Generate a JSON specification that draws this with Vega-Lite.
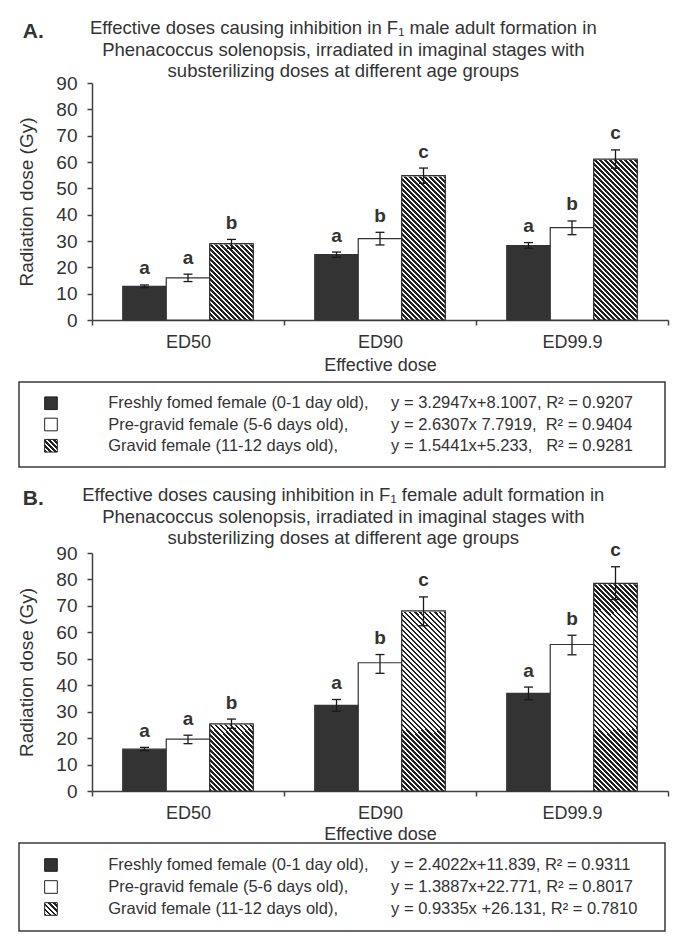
{
 "$schema": "https://vega.github.io/schema/vega-lite/v6.json",
 "padding": {"left": 17, "top": 19, "right": 8, "bottom": 2},
 "background": "#ffffff",
 "spacing": 18,
 "datasets": {
  "A": [
   {"dose":"ED50","stage":"fresh","value":12.8,"lo":12.3,"hi":13.3,"letter":"a"},
   {"dose":"ED50","stage":"pregravid","value":16.0,"lo":14.6,"hi":17.4,"letter":"a"},
   {"dose":"ED50","stage":"gravid","value":29.0,"lo":27.2,"hi":30.6,"letter":"b"},
   {"dose":"ED90","stage":"fresh","value":24.8,"lo":23.8,"hi":25.8,"letter":"a"},
   {"dose":"ED90","stage":"pregravid","value":30.9,"lo":28.5,"hi":33.3,"letter":"b"},
   {"dose":"ED90","stage":"gravid","value":54.8,"lo":51.9,"hi":57.7,"letter":"c"},
   {"dose":"ED99.9","stage":"fresh","value":28.3,"lo":27.2,"hi":29.4,"letter":"a"},
   {"dose":"ED99.9","stage":"pregravid","value":35.1,"lo":32.4,"hi":37.6,"letter":"b"},
   {"dose":"ED99.9","stage":"gravid","value":61.1,"lo":57.6,"hi":64.6,"letter":"c"}
  ],
  "B": [
   {"dose":"ED50","stage":"fresh","value":15.8,"lo":15.3,"hi":16.5,"letter":"a"},
   {"dose":"ED50","stage":"pregravid","value":19.6,"lo":17.9,"hi":21.1,"letter":"a"},
   {"dose":"ED50","stage":"gravid","value":25.4,"lo":23.7,"hi":27.2,"letter":"b"},
   {"dose":"ED90","stage":"fresh","value":32.4,"lo":30.2,"hi":34.6,"letter":"a"},
   {"dose":"ED90","stage":"pregravid","value":48.5,"lo":44.5,"hi":51.6,"letter":"b"},
   {"dose":"ED90","stage":"gravid","value":68.1,"lo":62.5,"hi":73.4,"letter":"c"},
   {"dose":"ED99.9","stage":"fresh","value":36.9,"lo":34.5,"hi":39.3,"letter":"a"},
   {"dose":"ED99.9","stage":"pregravid","value":55.4,"lo":51.5,"hi":58.9,"letter":"b"},
   {"dose":"ED99.9","stage":"gravid","value":78.5,"lo":72.4,"hi":84.8,"letter":"c"}
  ],
  "legA": [
   {"stage":"fresh","name":"Freshly fomed female (0-1 day old),","eq":"y = 3.2947x+8.1007, R² = 0.9207"},
   {"stage":"pregravid","name":"Pre-gravid female (5-6 days old),","eq":"y = 2.6307x 7.7919,\u00a0 R² = 0.9404"},
   {"stage":"gravid","name":"Gravid female (11-12 days old),","eq":"y = 1.5441x+5.233,\u00a0\u00a0 R² = 0.9281"}
  ],
  "legB": [
   {"stage":"fresh","name":"Freshly fomed female (0-1 day old),","eq":"y = 2.4022x+11.839, R² = 0.9311"},
   {"stage":"pregravid","name":"Pre-gravid female (5-6 days old),","eq":"y = 1.3887x+22.771, R² = 0.8017"},
   {"stage":"gravid","name":"Gravid female (11-12 days old),","eq":"y = 0.9335x +26.131, R² = 0.7810"}
  ]
 },
 "vconcat": [
  {
   "title": {"text": "A.", "anchor": "start", "frame": "bounds", "fontSize": 21, "fontWeight": "bold", "dx": 5, "dy": 23, "offset": 0},
   "spacing": 7,
   "vconcat": [
    {
     "width": 576, "height": 237,
     "view": {"stroke": null},
     "title": {"text": ["Effective doses causing inhibition in F₁ male adult formation in", "Phenacoccus solenopsis, irradiated in imaginal stages with", "substerilizing doses at different age groups"], "fontSize": 18.5, "lineHeight": 21.5, "offset": -6.5, "anchor": "middle", "frame": "bounds"},
     "data": {"name": "A"},
     "resolve": {"axis": {"y": "independent"}},
     "encoding": {
      "x": {"field": "dose", "type": "nominal", "sort": ["ED50","ED90","ED99.9"], "scale": {"paddingInner": 0, "paddingOuter": 0}, "title": "Effective dose", "axis": {"labelAngle": 0, "tickBand": "extent", "labelPadding": 8, "titlePadding": 5}},
      "xOffset": {"field": "stage", "type": "nominal", "sort": ["fresh","pregravid","gravid"], "scale": {"domain": ["fresh","pregravid","gravid"], "paddingInner": 0, "paddingOuter": 0.707}}
     },
     "layer": [
      {"mark": {"type": "bar", "stroke": "#333333", "strokeWidth": 1.2},
       "encoding": {
        "y": {"field": "value", "type": "quantitative", "scale": {"domain": [0, 90], "nice": false}, "title": "Radiation dose (Gy)", "axis": {"orient": "left", "values": [0,10,20,30,40,50,60,70,80,90], "labelPadding": 10, "titlePadding": 19, "labelFontSize": 19, "titleFontSize": 19}},
        "fill": {"field": "stage", "type": "nominal", "scale": {"domain": ["fresh","pregravid","gravid"], "range": ["#333333", "#ffffff", "rgba(255,255,255,0)"]}, "legend": null}
       }},
      {"transform": [{"filter": "datum.stage === 'gravid'"}], "mark": {"type": "bar", "style": "hatch", "strokeWidth": 0},
       "encoding": {"y": {"datum": 90, "type": "quantitative", "scale": {"domain": [0, 90], "nice": false}, "axis": null}, "y2": {"datum": 0}}},
      {"transform": [{"filter": "datum.stage === 'gravid'"}], "mark": {"type": "bar", "fill": "#ffffff", "stroke": "#ffffff", "strokeWidth": 1.5},
       "encoding": {"y": {"field": "value", "type": "quantitative", "scale": {"domain": [0, 90], "nice": false}, "axis": null}, "y2": {"datum": 90}}},
      {"transform": [{"filter": "datum.stage === 'gravid'"}], "mark": {"type": "bar", "fill": "rgba(255,255,255,0)", "stroke": "#333333", "strokeWidth": 1.2},
       "encoding": {"y": {"field": "value", "type": "quantitative", "scale": {"domain": [0, 90], "nice": false}, "axis": null}}},
      {"mark": {"type": "rule", "color": "#1a1a1a", "strokeWidth": 1.3},
       "encoding": {"y": {"field": "lo", "type": "quantitative", "scale": {"domain": [0, 90], "nice": false}, "axis": null}, "y2": {"field": "hi"}}},
      {"mark": {"type": "tick", "color": "#1a1a1a", "size": 9, "thickness": 1.3, "opacity": 1},
       "encoding": {"y": {"field": "lo", "type": "quantitative", "scale": {"domain": [0, 90], "nice": false}, "axis": null}}},
      {"mark": {"type": "tick", "color": "#1a1a1a", "size": 9, "thickness": 1.3, "opacity": 1},
       "encoding": {"y": {"field": "hi", "type": "quantitative", "scale": {"domain": [0, 90], "nice": false}, "axis": null}}},
      {"mark": {"type": "text", "baseline": "alphabetic", "dy": -10.5, "fontSize": 19, "fontWeight": "bold", "color": "#333333"},
       "encoding": {"y": {"field": "hi", "type": "quantitative", "scale": {"domain": [0, 90], "nice": false}, "axis": null}, "text": {"field": "letter"}}}
     ]
    },
    {
     "width": 576, "height": 85,
     "view": {"stroke": null},
     "data": {"name": "legA"},
     "resolve": {"scale": {"y": "independent"}},
     "layer": [
      {"transform": [{"filter": "datum.stage === 'fresh'"}], "mark": {"type": "rect", "fillOpacity": 0, "stroke": "#3a3a3a", "strokeWidth": 1.5, "clip": false},
       "encoding": {"x": {"datum": 0, "type": "quantitative", "scale": {"domain": [0, 100], "range": [-73, 573], "nice": false, "zero": false}, "axis": null}, "x2": {"datum": 100},
        "y": {"datum": 0, "type": "quantitative", "scale": {"domain": [0, 1], "nice": false}, "axis": null}, "y2": {"datum": 1}}},
      {"transform": [{"filter": "datum.stage !== 'gravid'"}], "mark": {"type": "square", "size": 160, "opacity": 1, "stroke": "#222222", "strokeWidth": 1, "clip": false},
       "encoding": {"x": {"datum": 4.95, "type": "quantitative", "scale": {"domain": [0, 100], "range": [-73, 573], "nice": false, "zero": false}, "axis": null},
        "y": {"field": "stage", "type": "nominal", "sort": ["fresh","pregravid","gravid"], "scale": {"type": "point", "domain": ["fresh","pregravid","gravid"], "padding": 1.02}, "axis": null},
        "fill": {"field": "stage", "type": "nominal", "scale": {"domain": ["fresh","pregravid"], "range": ["#333333", "#ffffff"]}, "legend": null}}},
      {"transform": [{"filter": "datum.stage === 'gravid'"}], "mark": {"type": "square", "size": 160, "opacity": 1, "style": "hatchsw", "stroke": "#222222", "strokeWidth": 1, "clip": false},
       "encoding": {"x": {"datum": 4.95, "type": "quantitative", "scale": {"domain": [0, 100], "range": [-73, 573], "nice": false, "zero": false}, "axis": null},
        "y": {"field": "stage", "type": "nominal", "sort": ["fresh","pregravid","gravid"], "scale": {"type": "point", "domain": ["fresh","pregravid","gravid"], "padding": 1.02}, "axis": null}}},
      {"mark": {"type": "text", "align": "left", "baseline": "middle", "fontSize": 16.5, "color": "#333333"},
       "encoding": {"x": {"datum": 13.8, "type": "quantitative", "scale": {"domain": [0, 100], "range": [-73, 573], "nice": false, "zero": false}, "axis": null},
        "y": {"field": "stage", "type": "nominal", "sort": ["fresh","pregravid","gravid"], "scale": {"type": "point", "domain": ["fresh","pregravid","gravid"], "padding": 1.02}, "axis": null}, "text": {"field": "name"}}},
      {"mark": {"type": "text", "align": "left", "baseline": "middle", "fontSize": 16.5, "color": "#333333"},
       "encoding": {"x": {"datum": 57.6, "type": "quantitative", "scale": {"domain": [0, 100], "range": [-73, 573], "nice": false, "zero": false}, "axis": null},
        "y": {"field": "stage", "type": "nominal", "sort": ["fresh","pregravid","gravid"], "scale": {"type": "point", "domain": ["fresh","pregravid","gravid"], "padding": 1.02}, "axis": null}, "text": {"field": "eq"}}}
     ]
    }
   ]
  },
  {
   "title": {"text": "B.", "anchor": "start", "frame": "bounds", "fontSize": 21, "fontWeight": "bold", "dx": 5, "dy": 23, "offset": 0},
   "spacing": -2,
   "vconcat": [
    {
     "width": 576, "height": 238,
     "view": {"stroke": null},
     "title": {"text": ["Effective doses causing inhibition in F₁ female adult formation in", "Phenacoccus solenopsis, irradiated in imaginal stages with", "substerilizing doses at different age groups"], "fontSize": 18.5, "lineHeight": 21.5, "offset": -6.5, "anchor": "middle", "frame": "bounds"},
     "data": {"name": "B"},
     "resolve": {"axis": {"y": "independent"}},
     "encoding": {
      "x": {"field": "dose", "type": "nominal", "sort": ["ED50","ED90","ED99.9"], "scale": {"paddingInner": 0, "paddingOuter": 0}, "title": "Effective dose", "axis": {"labelAngle": 0, "tickBand": "extent", "labelPadding": 8, "titlePadding": 3}},
      "xOffset": {"field": "stage", "type": "nominal", "sort": ["fresh","pregravid","gravid"], "scale": {"domain": ["fresh","pregravid","gravid"], "paddingInner": 0, "paddingOuter": 0.707}}
     },
     "layer": [
      {"mark": {"type": "bar", "stroke": "#333333", "strokeWidth": 1.2},
       "encoding": {
        "y": {"field": "value", "type": "quantitative", "scale": {"domain": [0, 90], "nice": false}, "title": "Radiation dose (Gy)", "axis": {"orient": "left", "values": [0,10,20,30,40,50,60,70,80,90], "labelPadding": 10, "titlePadding": 19, "labelFontSize": 19, "titleFontSize": 19}},
        "fill": {"field": "stage", "type": "nominal", "scale": {"domain": ["fresh","pregravid","gravid"], "range": ["#333333", "#ffffff", "rgba(255,255,255,0)"]}, "legend": null}
       }},
      {"transform": [{"filter": "datum.stage === 'gravid'"}], "mark": {"type": "bar", "style": "hatch", "strokeWidth": 0},
       "encoding": {"y": {"datum": 90, "type": "quantitative", "scale": {"domain": [0, 90], "nice": false}, "axis": null}, "y2": {"datum": 0}}},
      {"transform": [{"filter": "datum.stage === 'gravid'"}], "mark": {"type": "bar", "fill": "#ffffff", "stroke": "#ffffff", "strokeWidth": 1.5},
       "encoding": {"y": {"field": "value", "type": "quantitative", "scale": {"domain": [0, 90], "nice": false}, "axis": null}, "y2": {"datum": 90}}},
      {"transform": [{"filter": "datum.stage === 'gravid'"}], "mark": {"type": "bar", "fill": "rgba(255,255,255,0)", "stroke": "#333333", "strokeWidth": 1.2},
       "encoding": {"y": {"field": "value", "type": "quantitative", "scale": {"domain": [0, 90], "nice": false}, "axis": null}}},
      {"mark": {"type": "rule", "color": "#1a1a1a", "strokeWidth": 1.3},
       "encoding": {"y": {"field": "lo", "type": "quantitative", "scale": {"domain": [0, 90], "nice": false}, "axis": null}, "y2": {"field": "hi"}}},
      {"mark": {"type": "tick", "color": "#1a1a1a", "size": 9, "thickness": 1.3, "opacity": 1},
       "encoding": {"y": {"field": "lo", "type": "quantitative", "scale": {"domain": [0, 90], "nice": false}, "axis": null}}},
      {"mark": {"type": "tick", "color": "#1a1a1a", "size": 9, "thickness": 1.3, "opacity": 1},
       "encoding": {"y": {"field": "hi", "type": "quantitative", "scale": {"domain": [0, 90], "nice": false}, "axis": null}}},
      {"mark": {"type": "text", "baseline": "alphabetic", "dy": -10.5, "fontSize": 19, "fontWeight": "bold", "color": "#333333"},
       "encoding": {"y": {"field": "hi", "type": "quantitative", "scale": {"domain": [0, 90], "nice": false}, "axis": null}, "text": {"field": "letter"}}}
     ]
    },
    {
     "width": 576, "height": 88,
     "view": {"stroke": null},
     "data": {"name": "legB"},
     "resolve": {"scale": {"y": "independent"}},
     "layer": [
      {"transform": [{"filter": "datum.stage === 'fresh'"}], "mark": {"type": "rect", "fillOpacity": 0, "stroke": "#3a3a3a", "strokeWidth": 1.5, "clip": false},
       "encoding": {"x": {"datum": 0, "type": "quantitative", "scale": {"domain": [0, 100], "range": [-73, 573], "nice": false, "zero": false}, "axis": null}, "x2": {"datum": 100},
        "y": {"datum": 0, "type": "quantitative", "scale": {"domain": [0, 1], "nice": false}, "axis": null}, "y2": {"datum": 1}}},
      {"transform": [{"filter": "datum.stage !== 'gravid'"}], "mark": {"type": "square", "size": 160, "opacity": 1, "stroke": "#222222", "strokeWidth": 1, "clip": false},
       "encoding": {"x": {"datum": 4.95, "type": "quantitative", "scale": {"domain": [0, 100], "range": [-73, 573], "nice": false, "zero": false}, "axis": null},
        "y": {"field": "stage", "type": "nominal", "sort": ["fresh","pregravid","gravid"], "scale": {"type": "point", "domain": ["fresh","pregravid","gravid"], "padding": 1.1}, "axis": null},
        "fill": {"field": "stage", "type": "nominal", "scale": {"domain": ["fresh","pregravid"], "range": ["#333333", "#ffffff"]}, "legend": null}}},
      {"transform": [{"filter": "datum.stage === 'gravid'"}], "mark": {"type": "square", "size": 160, "opacity": 1, "style": "hatchsw", "stroke": "#222222", "strokeWidth": 1, "clip": false},
       "encoding": {"x": {"datum": 4.95, "type": "quantitative", "scale": {"domain": [0, 100], "range": [-73, 573], "nice": false, "zero": false}, "axis": null},
        "y": {"field": "stage", "type": "nominal", "sort": ["fresh","pregravid","gravid"], "scale": {"type": "point", "domain": ["fresh","pregravid","gravid"], "padding": 1.1}, "axis": null}}},
      {"mark": {"type": "text", "align": "left", "baseline": "middle", "fontSize": 16.5, "color": "#333333"},
       "encoding": {"x": {"datum": 13.8, "type": "quantitative", "scale": {"domain": [0, 100], "range": [-73, 573], "nice": false, "zero": false}, "axis": null},
        "y": {"field": "stage", "type": "nominal", "sort": ["fresh","pregravid","gravid"], "scale": {"type": "point", "domain": ["fresh","pregravid","gravid"], "padding": 1.1}, "axis": null}, "text": {"field": "name"}}},
      {"mark": {"type": "text", "align": "left", "baseline": "middle", "fontSize": 16.5, "color": "#333333"},
       "encoding": {"x": {"datum": 57.6, "type": "quantitative", "scale": {"domain": [0, 100], "range": [-73, 573], "nice": false, "zero": false}, "axis": null},
        "y": {"field": "stage", "type": "nominal", "sort": ["fresh","pregravid","gravid"], "scale": {"type": "point", "domain": ["fresh","pregravid","gravid"], "padding": 1.1}, "axis": null}, "text": {"field": "eq"}}}
     ]
    }
   ]
  }
 ],
 "config": {
  "font": "Liberation Sans",
  "view": {"stroke": null},
  "title": {"color": "#333333", "fontWeight": "normal", "font": "Liberation Sans"},
  "axis": {"grid": false, "domainColor": "#404040", "tickColor": "#404040", "domainWidth": 1.5, "tickWidth": 1.5, "tickSize": 5, "labelColor": "#333333", "titleColor": "#333333", "labelFontSize": 18, "titleFontSize": 18, "titleFontWeight": "normal", "labelFont": "Liberation Sans", "titleFont": "Liberation Sans"},
  "style": {
   "hatchsw": {"color": {"gradient": "linear", "x1": 0, "y1": 1, "x2": 1, "y2": 0, "stops": [
    {"offset":0,"color":"#222"},{"offset":0.1,"color":"#222"},{"offset":0.1,"color":"#fff"},{"offset":0.2,"color":"#fff"},
    {"offset":0.2,"color":"#222"},{"offset":0.3,"color":"#222"},{"offset":0.3,"color":"#fff"},{"offset":0.4,"color":"#fff"},
    {"offset":0.4,"color":"#222"},{"offset":0.5,"color":"#222"},{"offset":0.5,"color":"#fff"},{"offset":0.6,"color":"#fff"},
    {"offset":0.6,"color":"#222"},{"offset":0.7,"color":"#222"},{"offset":0.7,"color":"#fff"},{"offset":0.8,"color":"#fff"},
    {"offset":0.8,"color":"#222"},{"offset":0.9,"color":"#222"},{"offset":0.9,"color":"#fff"},{"offset":1,"color":"#fff"}
   ]}},
   "hatch": {"color": {"gradient": "linear", "x1": 0, "y1": 1, "x2": 0.2102, "y2": -0.145, "stops": [
    {"offset":0,"color":"#222"},{"offset":0.0089,"color":"#222"},{"offset":0.0089,"color":"#fff"},{"offset":0.0178,"color":"#fff"},
    {"offset":0.0178,"color":"#222"},{"offset":0.0267,"color":"#222"},{"offset":0.0267,"color":"#fff"},{"offset":0.0357,"color":"#fff"},
    {"offset":0.0357,"color":"#222"},{"offset":0.0446,"color":"#222"},{"offset":0.0446,"color":"#fff"},{"offset":0.0535,"color":"#fff"},
    {"offset":0.0535,"color":"#222"},{"offset":0.0624,"color":"#222"},{"offset":0.0624,"color":"#fff"},{"offset":0.0713,"color":"#fff"},
    {"offset":0.0713,"color":"#222"},{"offset":0.0802,"color":"#222"},{"offset":0.0802,"color":"#fff"},{"offset":0.0891,"color":"#fff"},
    {"offset":0.0891,"color":"#222"},{"offset":0.0980,"color":"#222"},{"offset":0.0980,"color":"#fff"},{"offset":0.1070,"color":"#fff"},
    {"offset":0.1070,"color":"#222"},{"offset":0.1159,"color":"#222"},{"offset":0.1159,"color":"#fff"},{"offset":0.1248,"color":"#fff"},
    {"offset":0.1248,"color":"#222"},{"offset":0.1337,"color":"#222"},{"offset":0.1337,"color":"#fff"},{"offset":0.1426,"color":"#fff"},
    {"offset":0.1426,"color":"#222"},{"offset":0.1515,"color":"#222"},{"offset":0.1515,"color":"#fff"},{"offset":0.1604,"color":"#fff"},
    {"offset":0.1604,"color":"#222"},{"offset":0.1693,"color":"#222"},{"offset":0.1693,"color":"#fff"},{"offset":0.1783,"color":"#fff"},
    {"offset":0.1783,"color":"#222"},{"offset":0.1872,"color":"#222"},{"offset":0.1872,"color":"#fff"},{"offset":0.1961,"color":"#fff"},
    {"offset":0.1961,"color":"#222"},{"offset":0.2050,"color":"#222"},{"offset":0.2050,"color":"#fff"},{"offset":0.2139,"color":"#fff"},
    {"offset":0.2139,"color":"#222"},{"offset":0.2228,"color":"#222"},{"offset":0.2228,"color":"#fff"},{"offset":0.2317,"color":"#fff"},
    {"offset":0.2317,"color":"#222"},{"offset":0.2406,"color":"#222"},{"offset":0.2406,"color":"#fff"},{"offset":0.2496,"color":"#fff"},
    {"offset":0.2496,"color":"#222"},{"offset":0.2585,"color":"#222"},{"offset":0.2585,"color":"#fff"},{"offset":0.2674,"color":"#fff"},
    {"offset":0.2674,"color":"#222"},{"offset":0.2763,"color":"#222"},{"offset":0.2763,"color":"#fff"},{"offset":0.2852,"color":"#fff"},
    {"offset":0.2852,"color":"#222"},{"offset":0.2941,"color":"#222"},{"offset":0.2941,"color":"#fff"},{"offset":0.3030,"color":"#fff"},
    {"offset":0.3030,"color":"#222"},{"offset":0.3119,"color":"#222"},{"offset":0.3119,"color":"#fff"},{"offset":0.3209,"color":"#fff"},
    {"offset":0.3209,"color":"#222"},{"offset":0.3298,"color":"#222"},{"offset":0.3298,"color":"#fff"},{"offset":0.3387,"color":"#fff"},
    {"offset":0.3387,"color":"#222"},{"offset":0.3476,"color":"#222"},{"offset":0.3476,"color":"#fff"},{"offset":0.3565,"color":"#fff"},
    {"offset":0.3565,"color":"#222"},{"offset":0.3654,"color":"#222"},{"offset":0.3654,"color":"#fff"},{"offset":0.3743,"color":"#fff"},
    {"offset":0.3743,"color":"#222"},{"offset":0.3832,"color":"#222"},{"offset":0.3832,"color":"#fff"},{"offset":0.3922,"color":"#fff"},
    {"offset":0.3922,"color":"#222"},{"offset":0.4011,"color":"#222"},{"offset":0.4011,"color":"#fff"},{"offset":0.4100,"color":"#fff"},
    {"offset":0.4100,"color":"#222"},{"offset":0.4189,"color":"#222"},{"offset":0.4189,"color":"#fff"},{"offset":0.4278,"color":"#fff"},
    {"offset":0.4278,"color":"#222"},{"offset":0.4367,"color":"#222"},{"offset":0.4367,"color":"#fff"},{"offset":0.4456,"color":"#fff"},
    {"offset":0.4456,"color":"#222"},{"offset":0.4545,"color":"#222"},{"offset":0.4545,"color":"#fff"},{"offset":0.4635,"color":"#fff"},
    {"offset":0.4635,"color":"#222"},{"offset":0.4724,"color":"#222"},{"offset":0.4724,"color":"#fff"},{"offset":0.4813,"color":"#fff"},
    {"offset":0.4813,"color":"#222"},{"offset":0.4902,"color":"#222"},{"offset":0.4902,"color":"#fff"},{"offset":0.4991,"color":"#fff"},
    {"offset":0.4991,"color":"#222"},{"offset":0.5080,"color":"#222"},{"offset":0.5080,"color":"#fff"},{"offset":0.5169,"color":"#fff"},
    {"offset":0.5169,"color":"#222"},{"offset":0.5258,"color":"#222"},{"offset":0.5258,"color":"#fff"},{"offset":0.5348,"color":"#fff"},
    {"offset":0.5348,"color":"#222"},{"offset":0.5437,"color":"#222"},{"offset":0.5437,"color":"#fff"},{"offset":0.5526,"color":"#fff"},
    {"offset":0.5526,"color":"#222"},{"offset":0.5615,"color":"#222"},{"offset":0.5615,"color":"#fff"},{"offset":0.5704,"color":"#fff"},
    {"offset":0.5704,"color":"#222"},{"offset":0.5793,"color":"#222"},{"offset":0.5793,"color":"#fff"},{"offset":0.5882,"color":"#fff"},
    {"offset":0.5882,"color":"#222"},{"offset":0.5971,"color":"#222"},{"offset":0.5971,"color":"#fff"},{"offset":0.6061,"color":"#fff"},
    {"offset":0.6061,"color":"#222"},{"offset":0.6150,"color":"#222"},{"offset":0.6150,"color":"#fff"},{"offset":0.6239,"color":"#fff"},
    {"offset":0.6239,"color":"#222"},{"offset":0.6328,"color":"#222"},{"offset":0.6328,"color":"#fff"},{"offset":0.6417,"color":"#fff"},
    {"offset":0.6417,"color":"#222"},{"offset":0.6506,"color":"#222"},{"offset":0.6506,"color":"#fff"},{"offset":0.6595,"color":"#fff"},
    {"offset":0.6595,"color":"#222"},{"offset":0.6684,"color":"#222"},{"offset":0.6684,"color":"#fff"},{"offset":0.6774,"color":"#fff"},
    {"offset":0.6774,"color":"#222"},{"offset":0.6863,"color":"#222"},{"offset":0.6863,"color":"#fff"},{"offset":0.6952,"color":"#fff"},
    {"offset":0.6952,"color":"#222"},{"offset":0.7041,"color":"#222"},{"offset":0.7041,"color":"#fff"},{"offset":0.7130,"color":"#fff"},
    {"offset":0.7130,"color":"#222"},{"offset":0.7219,"color":"#222"},{"offset":0.7219,"color":"#fff"},{"offset":0.7308,"color":"#fff"},
    {"offset":0.7308,"color":"#222"},{"offset":0.7397,"color":"#222"},{"offset":0.7397,"color":"#fff"},{"offset":0.7487,"color":"#fff"},
    {"offset":0.7487,"color":"#222"},{"offset":0.7576,"color":"#222"},{"offset":0.7576,"color":"#fff"},{"offset":0.7665,"color":"#fff"},
    {"offset":0.7665,"color":"#222"},{"offset":0.7754,"color":"#222"},{"offset":0.7754,"color":"#fff"},{"offset":0.7843,"color":"#fff"},
    {"offset":0.7843,"color":"#222"},{"offset":0.7932,"color":"#222"},{"offset":0.7932,"color":"#fff"},{"offset":0.8021,"color":"#fff"},
    {"offset":0.8021,"color":"#222"},{"offset":0.8110,"color":"#222"},{"offset":0.8110,"color":"#fff"},{"offset":0.8200,"color":"#fff"},
    {"offset":0.8200,"color":"#222"},{"offset":0.8289,"color":"#222"},{"offset":0.8289,"color":"#fff"},{"offset":0.8378,"color":"#fff"},
    {"offset":0.8378,"color":"#222"},{"offset":0.8467,"color":"#222"},{"offset":0.8467,"color":"#fff"},{"offset":0.8556,"color":"#fff"},
    {"offset":0.8556,"color":"#222"},{"offset":0.8645,"color":"#222"},{"offset":0.8645,"color":"#fff"},{"offset":0.8734,"color":"#fff"},
    {"offset":0.8734,"color":"#222"},{"offset":0.8823,"color":"#222"},{"offset":0.8823,"color":"#fff"},{"offset":0.8913,"color":"#fff"},
    {"offset":0.8913,"color":"#222"},{"offset":0.9002,"color":"#222"},{"offset":0.9002,"color":"#fff"},{"offset":0.9091,"color":"#fff"},
    {"offset":0.9091,"color":"#222"},{"offset":0.9180,"color":"#222"},{"offset":0.9180,"color":"#fff"},{"offset":0.9269,"color":"#fff"},
    {"offset":0.9269,"color":"#222"},{"offset":0.9358,"color":"#222"},{"offset":0.9358,"color":"#fff"},{"offset":0.9447,"color":"#fff"},
    {"offset":0.9447,"color":"#222"},{"offset":0.9536,"color":"#222"},{"offset":0.9536,"color":"#fff"},{"offset":0.9626,"color":"#fff"},
    {"offset":0.9626,"color":"#222"},{"offset":0.9715,"color":"#222"},{"offset":0.9715,"color":"#fff"},{"offset":0.9804,"color":"#fff"},
    {"offset":0.9804,"color":"#222"},{"offset":0.9893,"color":"#222"},{"offset":0.9893,"color":"#fff"},{"offset":0.9982,"color":"#fff"},
    {"offset":0.9982,"color":"#222"},{"offset":1,"color":"#222"}
   ]}}
  }
 }
}
